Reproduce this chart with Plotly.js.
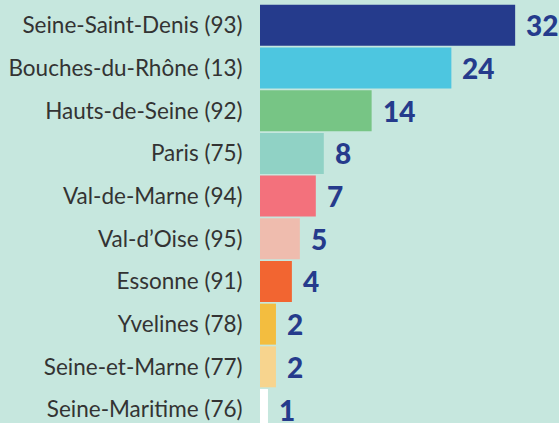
<!DOCTYPE html>
<html>
<head>
<meta charset="utf-8">
<script src="https://cdn.plot.ly/plotly-3.0.1.min.js"></script>
<style>
html,body{margin:0;padding:0;overflow:hidden;background:#c6e7de;}
#chart{width:559px;height:423px;}
</style>
</head>
<body>
<div id="chart"></div>
<script>
const departements = [
  "Seine-Saint-Denis (93)",
  "Bouches-du-Rhône (13)",
  "Hauts-de-Seine (92)",
  "Paris (75)",
  "Val-de-Marne (94)",
  "Val-d’Oise (95)",
  "Essonne (91)",
  "Yvelines (78)",
  "Seine-et-Marne (77)",
  "Seine-Maritime (76)"
];
const valeurs = [32, 24, 14, 8, 7, 5, 4, 2, 2, 1];
const couleurs = ["#253b8c", "#4dc6e0", "#77c585", "#90d2c5", "#f3717c", "#efbcae", "#f26531", "#f3bd3f", "#f7d48e", "#ffffff"];

const trace = {
  type: "bar",
  orientation: "h",
  x: valeurs,
  y: departements,
  marker: {color: couleurs, line: {width: 0}},
  hoverinfo: "none"
};

const annotations = valeurs.map((v, i) => ({
  x: v, y: departements[i], xref: "x", yref: "y",
  text: String(v), showarrow: false, xanchor: "left", yanchor: "middle",
  xshift: 9, yshift: 0,
  font: {family: "Lato", size: 28, color: "#253b8c", weight: 900}
}));

const layout = {
  width: 559, height: 423,
  margin: {l: 260, r: 0, t: 4.2, b: 0, pad: 0},
  paper_bgcolor: "#c6e7de",
  plot_bgcolor: "#c6e7de",
  bargap: 0.04,
  showlegend: false,
  xaxis: {range: [0, 37.5], visible: false, fixedrange: true},
  yaxis: {
    type: "category",
    range: [9.316, -0.5],
    showgrid: false, zeroline: false, showline: false,
    ticks: "outside", ticklen: 12, tickcolor: "rgba(0,0,0,0)",
    tickfont: {family: "Lato", size: 22.5, color: "#333333"},
    fixedrange: true
  },
  annotations: annotations
};

Plotly.newPlot("chart", [trace], layout, {displayModeBar: false, staticPlot: true});
</script>
</body>
</html>
